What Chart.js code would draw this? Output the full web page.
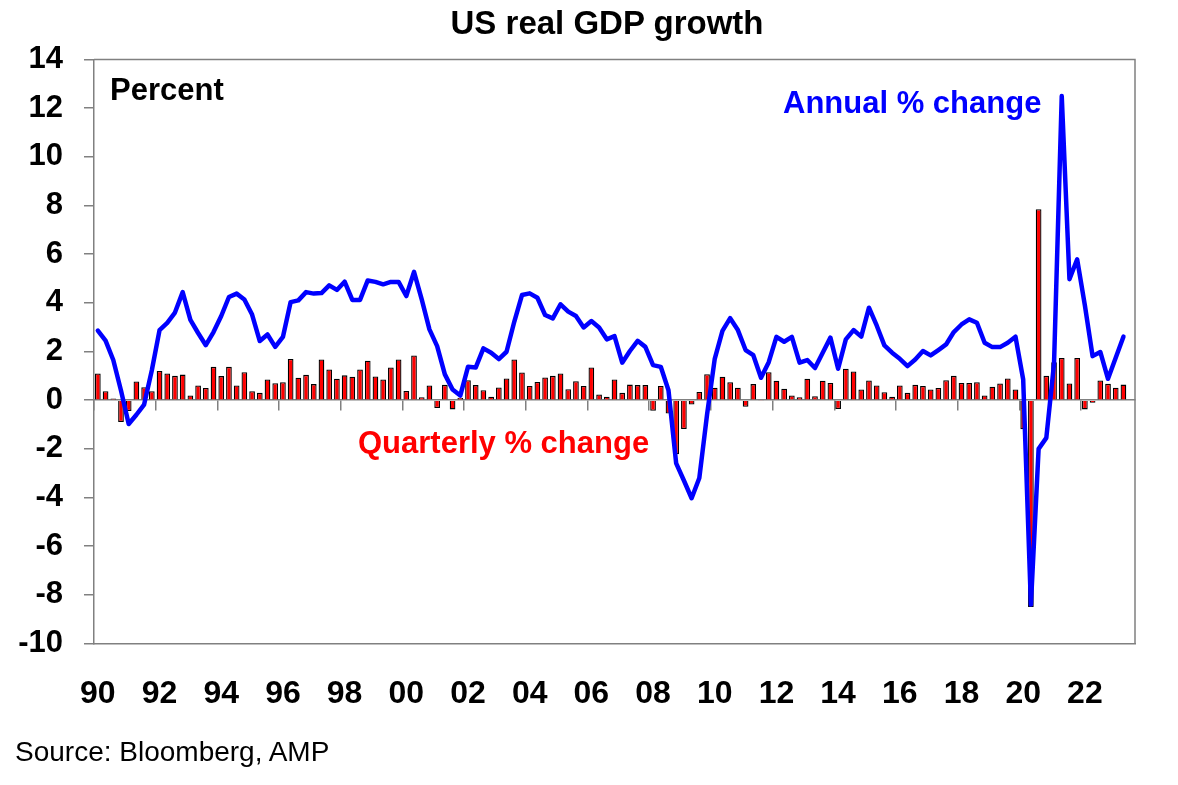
<!DOCTYPE html>
<html>
<head>
<meta charset="utf-8">
<script src="https://cdn.jsdelivr.net/npm/chart.js@4/dist/chart.umd.min.js"></script>
<style>
  body { margin: 0; background: #fff; }
  #wrap { position: relative; width: 1178px; height: 785px; font-family: "Liberation Sans", Arial, sans-serif; }
  #wrap canvas { position: absolute; left: 0; top: 0; }
  .txt { position: absolute; line-height: 1; white-space: nowrap; }
</style>
</head>
<body>
<div id="wrap">
  <canvas id="chart-gdp" width="1178" height="785"></canvas>
  <div class="txt" style="left:607px;top:6px;transform:translateX(-50%);font-size:33px;font-weight:bold;">US real GDP growth</div>
  <div class="txt" style="left:110px;top:74px;font-size:31px;font-weight:bold;">Percent</div>
  <div class="txt" style="left:783px;top:87px;font-size:31px;font-weight:bold;color:#0000FF;">Annual % change</div>
  <div class="txt" style="left:358px;top:427px;font-size:31px;font-weight:bold;color:#FF0000;">Quarterly % change</div>
  <div class="txt" style="left:15px;top:738px;font-size:28px;">Source: Bloomberg, AMP</div>
</div>
<script>
// Quarterly data, 1990 Q1 - 2023 Q2
const years = [1990, 1991, 1992, 1993, 1994, 1995, 1996, 1997, 1998, 1999,
  2000, 2001, 2002, 2003, 2004, 2005, 2006, 2007, 2008, 2009,
  2010, 2011, 2012, 2013, 2014, 2015, 2016, 2017, 2018, 2019,
  2020, 2021, 2022, 2023];

const yearTicks = ["90", "92", "94", "96", "98", "00", "02", "04", "06",
  "08", "10", "12", "14", "16", "18", "20", "22"];

// Quarterly % change
const quarterly = [
  1.1, 0.37, 0.07, -0.9,
  -0.45, 0.77, 0.53, 0.37,
  1.2, 1.1, 1.0, 1.05,
  0.19, 0.6, 0.5, 1.37,
  0.99, 1.37, 0.6, 1.15,
  0.37, 0.3, 0.85, 0.7,
  0.74, 1.69, 0.92, 1.04,
  0.66, 1.67, 1.26, 0.88,
  1.02, 0.96, 1.26, 1.62,
  0.97, 0.85, 1.34, 1.67,
  0.38, 1.84, 0.12, 0.6,
  -0.32, 0.63, -0.38, 0.1,
  0.82, 0.62, 0.41, 0.14,
  0.52, 0.89, 1.67, 1.14,
  0.58, 0.75, 0.93, 1.0,
  1.1, 0.45, 0.78, 0.58,
  1.34, 0.23, 0.14, 0.85,
  0.3, 0.64, 0.62, 0.62,
  -0.44, 0.58, -0.55, -2.22,
  -1.19, -0.18, 0.34, 1.07,
  0.51, 0.96, 0.74, 0.51,
  -0.27, 0.66, -0.02, 1.15,
  0.8, 0.47, 0.19, 0.12,
  0.88, 0.16, 0.8, 0.71,
  -0.36, 1.29, 1.18, 0.44,
  0.81, 0.6, 0.33, 0.14,
  0.6, 0.3, 0.63, 0.58,
  0.44, 0.5, 0.82, 1.0,
  0.71, 0.71, 0.74, 0.19,
  0.55, 0.69, 0.89, 0.44,
  -1.2, -8.5, 7.85, 1.0,
  1.56, 1.73, 0.69, 1.73,
  -0.38, -0.11, 0.81, 0.67,
  0.51, 0.64,
];

// Annual % change
const annual = [
  2.86, 2.45, 1.65, 0.4,
  -0.98, -0.6, -0.18, 1.23,
  2.88, 3.18, 3.6, 4.44,
  3.3, 2.76, 2.26, 2.8,
  3.46, 4.24, 4.38, 4.14,
  3.52, 2.43, 2.7, 2.19,
  2.6, 4.03, 4.1, 4.44,
  4.38, 4.4, 4.72, 4.53,
  4.87, 4.12, 4.12, 4.92,
  4.86, 4.76, 4.86, 4.86,
  4.28, 5.27, 4.14, 2.91,
  2.22, 1.06, 0.44, 0.19,
  1.37, 1.34, 2.13, 1.95,
  1.69, 1.99, 3.22, 4.32,
  4.39, 4.21, 3.5, 3.36,
  3.94, 3.64, 3.46, 2.99,
  3.25, 2.99, 2.5, 2.63,
  1.54, 2.02, 2.44, 2.19,
  1.44, 1.37, 0.41, -2.6,
  -3.3, -4.03, -3.2, -0.6,
  1.7, 2.85, 3.37, 2.88,
  2.06, 1.85, 0.92, 1.56,
  2.6, 2.4, 2.6, 1.54,
  1.65, 1.32, 1.95, 2.57,
  1.29, 2.5, 2.88, 2.61,
  3.8, 3.07, 2.25, 1.95,
  1.7, 1.4, 1.67, 2.02,
  1.84, 2.06, 2.29, 2.8,
  3.11, 3.32, 3.18, 2.36,
  2.18, 2.18, 2.36, 2.61,
  0.85, -8.4, -2.0, -1.55,
  1.5, 12.5, 4.97, 5.79,
  3.9, 1.81, 1.98, 0.88,
  1.74, 2.61,
];

// one empty quarter after the last data point, as in the original axis
const labels = [];
years.forEach(y => [1, 2, 3, 4].forEach(q => labels.push(y + " Q" + q)));
labels.length = quarterly.length + 1;

const FONT = "'Liberation Sans', Arial, sans-serif";
const AXIS_GREY = "#808080";

// grey frame on top and right of the plot area
const frame = {
  id: "frame",
  beforeDatasetsDraw(chart) {
    const { ctx, chartArea: a } = chart;
    ctx.save();
    ctx.strokeStyle = AXIS_GREY;
    ctx.lineWidth = 1.5;
    ctx.beginPath();
    ctx.moveTo(a.left, a.top);
    ctx.lineTo(a.right, a.top);
    ctx.lineTo(a.right, a.bottom);
    ctx.stroke();
    ctx.restore();
  },
};

new Chart(document.getElementById("chart-gdp"), {
  type: "bar",
  data: {
    labels: labels,
    datasets: [
      {
        label: "Annual % change",
        type: "line",
        data: annual,
        borderColor: "#0000FF",
        borderWidth: 4.5,
        pointRadius: 0,
        tension: 0,
        borderJoinStyle: "round",
        borderCapStyle: "round",
        order: 1,
      },
      {
        label: "Quarterly % change",
        data: quarterly,
        backgroundColor: "#FF0000",
        borderColor: "#000000",
        borderWidth: 1.3,
        barPercentage: 0.74,
        categoryPercentage: 1,
        order: 2,
      },
    ],
  },
  options: {
    responsive: false,
    animation: false,
    layout: { padding: { top: 59.5, left: 0, right: 43, bottom: 51.5 } },
    plugins: {
      legend: { display: false },
      tooltip: { enabled: false },
    },
    scales: {
      x: {
        type: "category",
        position: "bottom",
        offset: true,
        grid: { display: false },
        border: { display: true, color: AXIS_GREY, width: 1.5 },
        ticks: {
          autoSkip: false,
          maxRotation: 0,
          padding: 23,
          color: "#000",
          font: { family: FONT, size: 32, weight: "bold" },
          callback: (val, i) => (i % 8 === 0 ? yearTicks[i / 8] : ""),
        },
        afterFit: (scale) => { scale.height = 90; },
      },
      // zero line with the two-year tick marks
      xz: {
        type: "category",
        position: { y: 0 },
        offset: true,
        ticks: { display: false },
        grid: {
          offset: true,
          drawOnChartArea: false,
          tickLength: 10,
          lineWidth: 1.5,
          tickColor: (ctx) => (ctx.index % 8 === 0 ? AXIS_GREY : "rgba(0,0,0,0)"),
        },
        border: { display: true, color: AXIS_GREY, width: 1.5 },
      },
      y: {
        position: "left",
        min: -10,
        max: 14,
        ticks: {
          stepSize: 2,
          padding: 21,
          color: "#000",
          font: { family: FONT, size: 31, weight: "bold" },
        },
        grid: { drawOnChartArea: false, tickLength: 10, color: AXIS_GREY, lineWidth: 1.5 },
        border: { display: true, color: AXIS_GREY, width: 1.5 },
        afterFit: (scale) => { scale.width = 94; },
      },
    },
  },
  plugins: [frame],
});
</script>
</body>
</html>
